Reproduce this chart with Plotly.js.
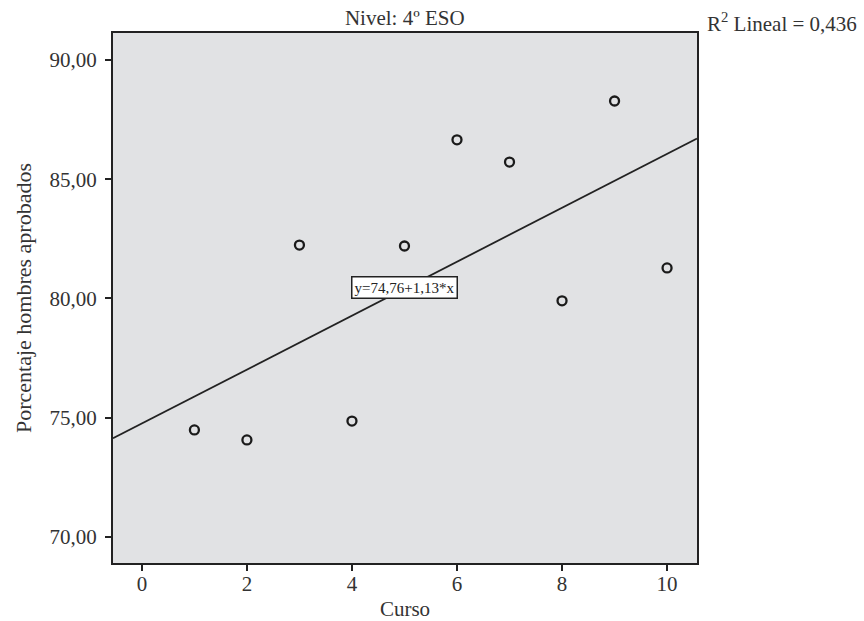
<!DOCTYPE html>
<html><head><meta charset="utf-8">
<script src="https://cdn.plot.ly/plotly-3.0.1.min.js"></script>
<style>body{margin:0;background:#fff}#c{width:864px;height:621px}</style>
</head><body><div id="c"></div>
<script>
const curso = [1, 2, 3, 4, 5, 6, 7, 8, 9, 10];
const porcentaje = [74.49, 74.07, 82.24, 74.86, 82.20, 86.65, 85.72, 79.90, 88.28, 81.28];
const intercept = 74.76;
const slope = 1.13;
const xRange = [-0.55, 10.57];
const yRange = [68.91, 91.13];
const yTicks = [70, 75, 80, 85, 90];
const xTicks = [0, 2, 4, 6, 8, 10];
const serif = "Liberation Serif, Times New Roman, serif";

const fitX = xRange.slice();
const fitY = fitX.map(x => intercept + slope * x);

const data = [
  {x: fitX, y: fitY, mode: 'lines', line: {color: '#222', width: 1.8}, hoverinfo: 'skip', showlegend: false},
  {x: curso, y: porcentaje, mode: 'markers', marker: {symbol: 'circle-open', size: 9, color: '#1a1a1a', line: {width: 2.3, color: '#1a1a1a'}}, showlegend: false}
];

const layout = {
  width: 864, height: 621,
  margin: {l: 113, r: 167, t: 33, b: 58},
  paper_bgcolor: '#fff', plot_bgcolor: '#e1e2e4',
  separators: ',.',
  font: {family: serif, color: '#333', size: 21},
  title: {text: 'Nivel: 4º ESO', font: {family: serif, size: 21, color: '#333'}, x: 0.4685, xanchor: 'center', y: 0.972, yanchor: 'middle'},
  xaxis: {
    range: xRange, tickvals: xTicks, ticktext: xTicks.map(String),
    showgrid: false, zeroline: false, showline: true, mirror: true, linecolor: '#222', linewidth: 2,
    ticks: 'outside', ticklen: 6, tickwidth: 2, tickcolor: '#222', ticklabelstandoff: -5,
    tickfont: {family: serif, size: 21, color: '#333'},
    title: {text: 'Curso', font: {family: serif, size: 21, color: '#333'}, standoff: 6}
  },
  yaxis: {
    range: yRange, tickvals: yTicks, tickformat: '.2f',
    showgrid: false, zeroline: false, showline: true, mirror: true, linecolor: '#222', linewidth: 2,
    ticks: 'outside', ticklen: 6, tickwidth: 2, tickcolor: '#222', ticklabelstandoff: 4,
    tickfont: {family: serif, size: 21, color: '#333'},
    title: {text: 'Porcentaje hombres aprobados', font: {family: serif, size: 22, color: '#333'}, standoff: 12}
  },
  annotations: [
    {x: 5.0, y: 80.45, xref: 'x', yref: 'y', text: 'y=74,76+1,13*x', showarrow: false,
     font: {family: serif, size: 15, color: '#222'}, bgcolor: '#fff', bordercolor: '#222', borderwidth: 1.5, borderpad: 2},
    {x: 1, xref: 'paper', xanchor: 'left', xshift: 8, y: 1, yref: 'paper', yanchor: 'top', yshift: 26,
     text: 'R<sup>2</sup> Lineal = 0,436', showarrow: false, font: {family: serif, size: 21, color: '#333'}}
  ]
};
Plotly.newPlot('c', data, layout, {displayModeBar: false, staticPlot: true});
</script></body></html>
